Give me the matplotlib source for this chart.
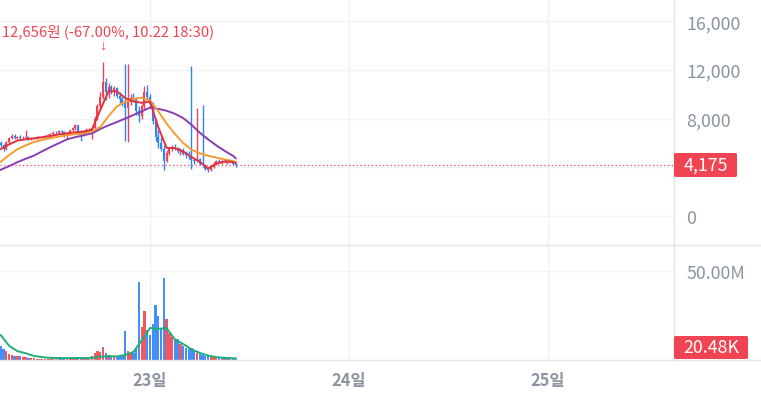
import matplotlib
matplotlib.use('Agg')
import matplotlib.pyplot as plt
import matplotlib.dates as mdates
import matplotlib.patches as mpatches
from matplotlib.lines import Line2D
from matplotlib.transforms import blended_transform_factory
import pandas as pd
import numpy as np

plt.rcParams['font.family'] = ['Noto Sans CJK KR', 'DejaVu Sans']

# ---------------- data ----------------
start_time = '2024-10-22 06:00'
candle_interval = '20min'

opens = [6000, 5800, 5500, 6100, 6400, 6600, 6450, 6500, 6400, 6450,
         6500, 6350, 6400, 6420, 6450, 6480, 6520, 6600, 6650, 6750,
         6850, 6800, 6950, 6900, 6600, 6700, 7050, 7200, 7450, 7000,
         6700, 6950, 7100, 7000, 7200, 8000, 9000, 9800, 11000, 10200,
         10600, 10300, 10500, 9900, 9600, 9300, 8900, 9400, 9700, 9600,
         8600, 8200, 9000, 10200, 9800, 9200, 7800, 6500, 6000, 5500,
         4500, 5200, 5500, 5700, 5600, 5300, 5450, 5100, 5000, 4900,
         4600, 4500, 4700, 4300, 4200, 3900, 3750, 4000, 4300, 4550,
         4450, 4500, 4400, 4550, 4400, 4300]
highs = [6150, 5900, 6200, 6500, 6700, 6750, 6600, 6650, 6550, 7050,
         6600, 6500, 6500, 6550, 6550, 6600, 6650, 6750, 6850, 6950,
         7000, 7050, 7100, 6950, 6750, 7100, 7300, 7550, 7500, 7100,
         7050, 7200, 7250, 7100, 8200, 9200, 10200, 12656, 11300, 10900,
         10800, 10700, 10600, 10200, 9900, 12500, 12500, 10000, 10100, 9800,
         9000, 9200, 10700, 10800, 10000, 9400, 8000, 7100, 6500, 5800,
         5400, 5600, 5800, 5900, 5700, 5600, 5600, 5300, 5300, 12300,
         4800, 8900, 4800, 9100, 4300, 4000, 4100, 4400, 4600, 4650,
         4600, 4650, 4600, 4650, 4500, 4350]
lows = [5700, 5300, 5450, 6000, 6300, 6350, 6300, 6350, 6300, 6400,
        6250, 6250, 6300, 6350, 6380, 6400, 6450, 6500, 6550, 6650,
        6700, 6750, 6800, 6500, 6300, 6650, 6950, 7100, 6900, 6200,
        6600, 6850, 6900, 6350, 7100, 7900, 8800, 9600, 9500, 9700,
        10000, 9900, 9700, 9300, 9000, 6200, 6100, 9100, 9400, 8300,
        7750, 8000, 8800, 9600, 8900, 7600, 6200, 5600, 5300, 3800,
        4400, 5000, 5300, 5400, 5200, 5000, 5000, 4800, 4700, 3850,
        4300, 4400, 4200, 4000, 3800, 3650, 3700, 3950, 4200, 4350,
        4300, 4350, 4300, 4350, 4150, 4000]
closes = [5800, 5500, 6100, 6400, 6600, 6450, 6500, 6400, 6450, 6500,
          6350, 6400, 6420, 6450, 6480, 6520, 6600, 6650, 6750, 6850,
          6800, 6950, 6900, 6600, 6700, 7050, 7200, 7450, 7000, 6700,
          6950, 7100, 7000, 7200, 8000, 9000, 9800, 11000, 10200, 10600,
          10300, 10500, 9900, 9600, 9300, 8900, 9400, 9700, 9600, 8600,
          8200, 9000, 10200, 9800, 9200, 7800, 6500, 6000, 5500, 4500,
          5200, 5500, 5700, 5600, 5300, 5450, 5100, 5000, 4900, 4600,
          4500, 4700, 4300, 4200, 3900, 3750, 4000, 4300, 4550, 4450,
          4500, 4400, 4550, 4400, 4300, 4175]
volumes_m = [8, 6, 5, 3.5, 3, 2.5, 2.2, 2, 1.8, 1.5,
             1.2, 1, 0.9, 0.8, 0.7, 0.6, 0.6, 0.5, 0.5, 0.5,
             0.5, 0.5, 0.5, 0.6, 0.5, 0.5, 0.5, 0.5, 0.6, 0.6,
             0.5, 0.5, 0.6, 2.5, 4, 5, 4.5, 7.5, 4, 3,
             2.5, 2, 1.8, 2.2, 2.5, 16.5, 5, 4, 4, 6,
             43.6, 18.5, 27.7, 17, 14, 20, 31, 25, 18, 46,
             23, 15, 13, 11, 12, 9, 8, 7, 6, 7,
             5, 4, 3.5, 3, 2.5, 2.5, 2, 1.8, 1.5, 1.2,
             1, 1, 0.8, 0.8, 0.6, 0.5]

# moving averages sampled hourly (every 3rd candle) plus the last candle
ma_short = [5500, 5880, 6200, 6300, 6380, 6470, 6570, 6710, 6800, 6880,
            6930, 7100, 8700, 10250, 10250, 9700, 9420, 9300, 9400, 7300,
            5600, 5580, 5300, 4850, 4450, 3900, 4300, 4480, 4450, 4350]
ma_mid = [4450, 5000, 5480, 5800, 6080, 6250, 6400, 6520, 6650, 6720,
          6800, 6980, 7300, 8200, 9000, 9400, 9600, 9720, 9500, 8600,
          7600, 6750, 6000, 5450, 5150, 4950, 4800, 4650, 4500, 4450]
ma_long = [3800, 4100, 4420, 4700, 4960, 5320, 5660, 5980, 6300, 6480,
           6640, 6780, 7150, 7450, 7720, 8000, 8300, 8600, 8900, 8800,
           8650, 8400, 8050, 7500, 6850, 6300, 5800, 5350, 4950, 4750]
vol_ma_m = [14, 8, 5, 3.8, 2.3, 1.6, 1.2, 1.1, 1.1, 1.1,
            1.1, 1.2, 1.8, 2.2, 2.0, 2.8, 4.5, 11, 18, 17.5,
            18, 11.5, 9, 6, 4, 2.5, 1.6, 1.2, 1.0, 0.9]

last_price = 4175
last_price_label = '4,175'
last_volume_label = '20.48K'
peak_text = '12,656원 (-67.00%, 10.22 18:30)'
day_ticks = ['2024-10-23', '2024-10-24', '2024-10-25']
day_labels = ['23일', '24일', '25일']
price_ticks = [0, 8000, 12000, 16000]
price_tick_labels = ['0', '8,000', '12,000', '16,000']
volume_ticks = [50]
volume_tick_labels = ['50.00M']

# ---------------- style ----------------
W, H = 761, 406
UP = '#f04452'
DOWN = '#3182f6'
GRAY = '#8b95a1'
GRID = '#f1f2f4'
SEP = '#e3e5e8'

fig = plt.figure(figsize=(W / 100, H / 100), dpi=100)
fig.patch.set_facecolor('white')

ax_p = fig.add_axes([0, 1 - 246 / H, 674 / W, 246 / H])
ax_v = fig.add_axes([0, 45 / H, 674 / W, 116 / H], sharex=ax_p)

times = pd.date_range(start_time, periods=len(closes), freq=candle_interval)
x = mdates.date2num(times)
o = np.array(opens, float)
h = np.array(highs, float)
l = np.array(lows, float)
c = np.array(closes, float)
v = np.array(volumes_m, float)
colors = [UP if cc >= oo else DOWN for oo, cc in zip(o, c)]

step = (x[1] - x[0])
ma_x = np.append(x[::3], x[-1])

# gridlines
for ax in (ax_p, ax_v):
    for d in day_ticks:
        ax.axvline(mdates.date2num(pd.Timestamp(d)), color=GRID, lw=1, zorder=0)
for pt in price_ticks + [4000]:
    ax_p.axhline(pt, color=GRID, lw=1, zorder=0)
for vt in volume_ticks:
    ax_v.axhline(vt, color=GRID, lw=1, zorder=0)

# candles
ax_p.vlines(x, l, h, colors=colors, lw=1.0, zorder=3)
body_bottom = np.minimum(o, c)
body_h = np.maximum(np.abs(c - o), 40)
ax_p.bar(x, body_h, bottom=body_bottom, width=step * 0.72, color=colors, lw=0, zorder=3)

# moving averages
ax_p.plot(ma_x, ma_long, color='#8a3db3', lw=1.4, zorder=4)
ax_p.plot(ma_x, ma_mid, color='#f59c2f', lw=1.4, zorder=4)
ax_p.plot(ma_x, ma_short, color='#e0323e', lw=1.4, zorder=4)

# last price dotted line
ax_p.axhline(last_price, color=UP, lw=0.9, ls=(0, (1, 2)), zorder=2)

# peak annotation
ipk = int(np.argmax(h))
tr = blended_transform_factory(ax_p.transData, ax_p.transAxes)
ax_p.text(1.5 / 674, 1 - 32 / 246, peak_text, transform=ax_p.transAxes, ha='left', va='center',
          color=UP, fontsize=10.6)
ax_p.text(x[ipk], 1 - 47 / 246, '↓', transform=tr, ha='center', va='center',
          color=UP, fontsize=6.5)

# volume
ax_v.bar(x, v, width=step * 0.85, color=colors, lw=0, alpha=0.9, zorder=3)
ax_v.plot(ma_x, vol_ma_m, color='#1fae78', lw=1.4, zorder=4)

# limits
xl = (mdates.date2num(pd.Timestamp('2024-10-22 05:54:36')),
      mdates.date2num(pd.Timestamp('2024-10-25 15:12')))
ax_p.set_xlim(*xl)
ax_p.set_ylim(-2383, 17831)
ax_v.set_ylim(0, 65.2)

for ax in (ax_p, ax_v):
    for s in ax.spines.values():
        s.set_visible(False)
    ax.set_facecolor('none')

ax_p.yaxis.tick_right()
ax_p.set_yticks(price_ticks)
ax_p.set_yticklabels(price_tick_labels)
ax_p.tick_params(axis='y', length=0, pad=9, labelsize=12.8, labelcolor=GRAY)
ax_p.tick_params(axis='x', bottom=False, labelbottom=False)

ax_v.yaxis.tick_right()
ax_v.set_yticks(volume_ticks)
ax_v.set_yticklabels(volume_tick_labels)
ax_v.tick_params(axis='y', length=0, pad=9, labelsize=12.8, labelcolor=GRAY)
ax_v.set_xticks([mdates.date2num(pd.Timestamp(d)) for d in day_ticks])
ax_v.set_xticklabels(day_labels)
ax_v.tick_params(axis='x', length=0, pad=8, labelsize=11.8, labelcolor=GRAY)
for lbl in ax_v.get_xticklabels():
    lbl.set_fontweight('bold')

# separators
fig.add_artist(Line2D([0, 1], [1 - 246 / H] * 2, transform=fig.transFigure, color=SEP, lw=1))
fig.add_artist(Line2D([0, 1], [1 - 361 / H] * 2, transform=fig.transFigure, color=SEP, lw=1))
fig.add_artist(Line2D([674 / W] * 2, [1 - 361 / H, 1], transform=fig.transFigure, color=SEP, lw=1))

# value badges
def badge(x0, x1, y0, y1, text):
    fig.add_artist(mpatches.FancyBboxPatch((x0 / W, 1 - y1 / H), (x1 - x0) / W, (y1 - y0) / H,
                                           boxstyle='round,pad=0,rounding_size=0.003',
                                           transform=fig.transFigure, facecolor=UP,
                                           edgecolor='none', zorder=10))
    fig.text((x0 + x1) / 2 / W, 1 - (y0 + y1) / 2 / H, text, ha='center', va='center',
             color='white', fontsize=12.8, zorder=11)

badge(674, 737, 154, 178, last_price_label)
badge(674, 748, 337, 360, last_volume_label)

fig.savefig('out.png', dpi=100, facecolor='white')
